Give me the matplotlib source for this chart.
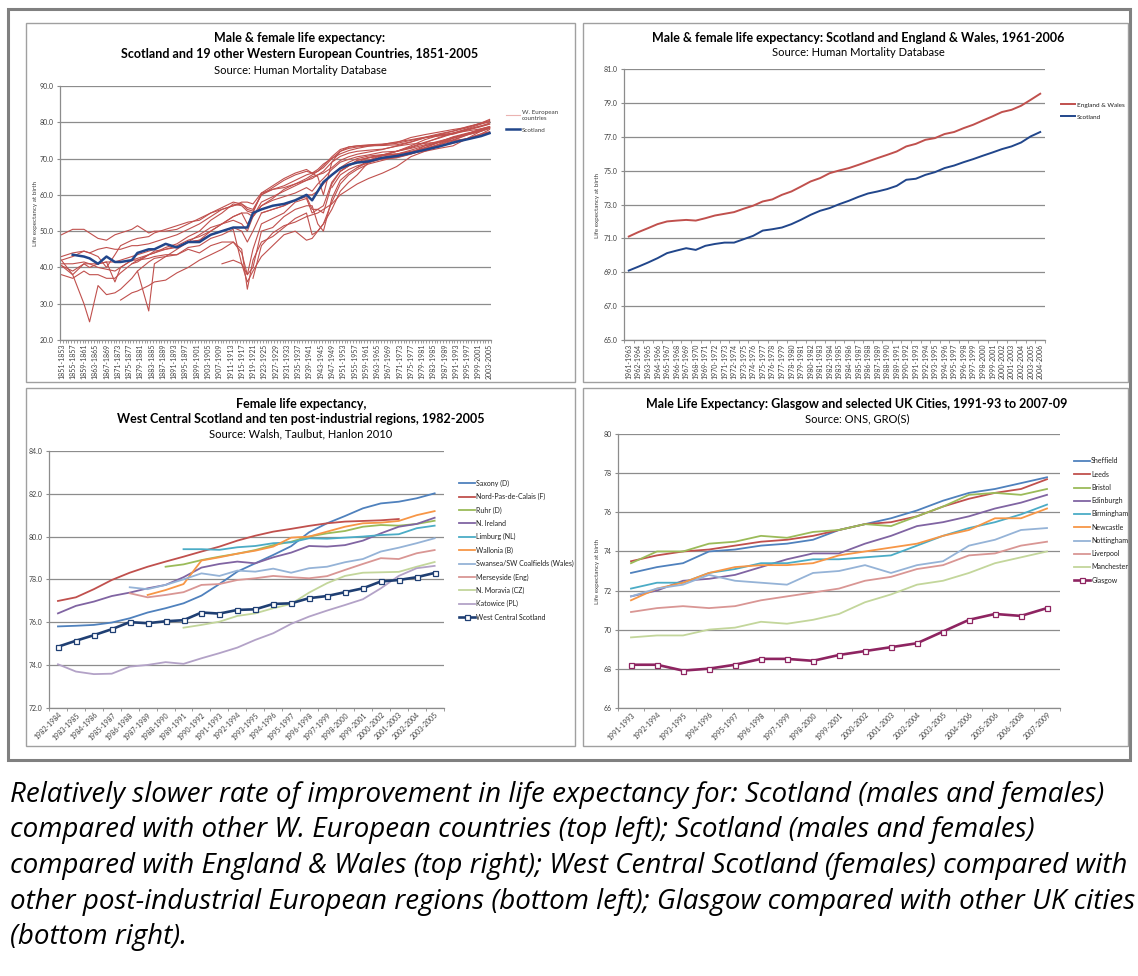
import matplotlib
matplotlib.use("Agg")
import matplotlib.pyplot as plt
from matplotlib.lines import Line2D
from matplotlib.patches import Rectangle
import numpy as np

plt.rcParams['font.family'] = ['Lato', 'DejaVu Sans']

W, H = 1138, 976
N = None

# ---------------- top left: 19 W. European countries + Scotland, 1851-2005 (3-year windows)
tl_first = 1851
tl_count = 153
tl_years = [1851, 1855, 1859, 1861, 1864, 1867, 1870, 1872, 1876, 1878, 1882, 1884, 1888, 1892, 1896,
            1900, 1904, 1908, 1912, 1915, 1917, 1919, 1922, 1926, 1930, 1934, 1938, 1940, 1942, 1944,
            1947, 1950, 1953, 1956, 1960, 1965, 1970, 1975, 1980, 1985, 1990, 1995, 2000, 2003]

norway = [49, 50.5, 50.5, 49.5, 48, 47.5, 49, 49.5, 50.5, 51.5, 49.5, 50, 50, 50.5, 52, 53.5, 55, 56, 57, 57.5,
          56.5, 56, 60, 62, 64, 65.5, 66.5, 66, 66.5, 68, 70.5, 72.5, 73.2, 73.5, 73.6, 73.8, 74.2, 75, 75.8, 76.2,
          76.7, 77.8, 78.8, 79.5]
sweden = [43, 44, 44.5, 44, 43, 40, 43.5, 46, 47.5, 48, 48.5, 49.5, 50.5, 51.5, 52.5, 53, 55, 56.5, 58, 57.5,
          56, 55.5, 60, 61.5, 62.5, 64, 65.5, 66, 67, 68.5, 70, 71.3, 72.2, 72.8, 73.4, 73.9, 74.6, 75.2, 75.9, 76.8,
          77.6, 78.8, 79.7, 80.2]
denmark = [42, 43, 44.5, 44, 45, 45.5, 45, 45, 46, 46, 46.5, 47, 48, 49, 50.5, 52, 54, 56, 57, 58,
           58, 57.5, 60.5, 61.5, 62, 63, 64, 65, 65.5, 66.5, 69, 70.6, 71.5, 72, 72.3, 72.6, 73.4, 74, 74.2, 74.5,
           75, 75.4, 76.8, 77.4]
iceland = [42, 38, 30, 25, 35, 32.5, 33, 34, 37, 39, 28, 41, 43, 45, 47, 49, 51, 52, 54, 55,
           55, 54, 57, 59, 61.5, 63, 64.5, 65.5, 66.5, 67.5, 70, 72, 73.2, 73.5, 73.8, 74, 74.4, 75.8, 76.6, 77.3,
           78, 78.6, 79.8, 80.8]
france = [40.5, 38, 41, 40, 41, 41.5, 36, 40, 42, 42, 42.5, 43, 43.5, 43.5, 45.5, 46, 48, 49, 50.5, 41,
          38, 45, 52, 53.5, 55, 58, 59, 55, 56, 55, 63, 66.5, 68, 69.5, 70.3, 71, 72, 73.2, 74.5, 75.6,
          76.9, 78, 79, 79.5]
netherlands = [38, 37, 39, 38, 38, 37, 37, 38.5, 41, 42, 43.5, 44, 45.5, 46.5, 48.5, 50, 53, 55, 57.5, 57,
               55.5, 55, 60.5, 62.5, 64.5, 66, 67, 66, 65, 60, 69, 72, 72.8, 73.2, 73.5, 73.6, 73.8, 74.6, 75.8,
               76.5, 77, 77.6, 78.2, 78.8]
belgium = [40.5, 39, 41, 41, 40, 39.5, 39, 40, 42, 42.5, 43.5, 44.5, 45, 45.5, 47, 47.5, 49, 50, 51, 50,
           47, 50, 55, 56, 57, 58.5, 59.5, 56, 56, 57, 63.5, 66.5, 68, 69, 70.2, 70.8, 71.2, 72.3, 73.5, 74.5,
           76, 77, 77.9, 78.5]
eng_wales = [41, 41, 41.5, 41, 41, 41.5, 41.5, 42, 43, 43.5, 44.5, 45, 46.5, 45.5, 47, 47.5, 50, 52, 53, 52,
             50, 54, 57, 58.5, 59.5, 60.5, 62, 61, 63, 64.5, 67, 69, 69.8, 70.5, 71, 71.8, 72, 72.8, 73.8, 74.8,
             75.8, 76.8, 77.9, 78.5]
switzerland = [N] * 8 + [41, 41.5, 43.5, 44, 45, 46, 47.5, 48.5, 50, 52, 54, 55, 52, 54, 58, 59.5, 61, 62.5,
                         64, 64.5, 65.5, 66, 67.5, 69.5, 70.5, 71.2, 71.8, 72.5, 73.5, 74.5, 75.7, 76.6, 77.5,
                         78.5, 79.8, 80.5]
italy = [N] * 7 + [31, 33, 33.5, 35, 36, 36.5, 38.5, 40, 42, 43.5, 45, 47, 44, 38, 40, 50, 51, 54, 56, 57,
                   57, 52, 50, 59, 64, 66, 67.5, 69.5, 71, 72, 73, 74.3, 75.8, 77, 78.2, 79.5, 80.2]
finland = [N] * 9 + [39, 41.5, 42.5, 43, 43.5, 45, 44, 46, 47, 47, 45, 34, 42, 47, 48.5, 51, 53.5, 55, 49, 50,
                     52, 58, 63, 65.5, 67, 68.5, 69.5, 70.5, 71.5, 73.5, 74.5, 75, 76.5, 77.5, 78.5]
spain = [N] * 17 + [41, 42, 41, 36, 39, 43, 46, 49, 50, 47.5, 48, 50, 52, 56, 61, 63.5, 65.5, 69, 70.8, 72,
                    73.5, 75.2, 76.4, 77, 78, 79, 79.8]
portugal = [N] * 21 + [37, 46, 49.5, 51.5, 52.5, 54, 54.5, 55, 56, 57.5, 60, 61.5, 63, 64.5, 66, 67.8, 70.5,
                       72, 73.5, 74.2, 75.5, 76.5, 77.3]
n_ireland = [N] * 22 + [55, 56, 57, 58.5, 60, 60, 61, 63, 65.5, 67.5, 69, 70, 70.7, 71.1, 71.3, 71.8, 73, 74.4,
                        75.6, 76.6, 77.6, 78.3]
ireland = [N] * 31 + [66.5, 68, 69.5, 70.2, 70.9, 71.2, 72, 72.8, 73.8, 74.8, 75.5, 76.8, 78]
austria = [N] * 30 + [62, 65.5, 67, 68, 68.8, 70, 70.2, 71.2, 72.5, 74, 75.6, 76.8, 78.2, 78.8]
w_germany = [N] * 33 + [69, 69.6, 70.3, 70.7, 71.5, 73, 74.6, 75.8, 76.8, 78.1, 78.7]
luxembourg = [N] * 34 + [69.5, 69.8, 70.3, 71.3, 72.5, 73.8, 75.2, 76.5, 77.8, 78.6]
e_germany = [N] * 33 + [67.5, 69, 70.3, 71, 71.5, 72, 72.8, 73.5, 75.5, 77.6, 78.3]
scotland_tl = [N, 43.5, 43, 42.5, 41, 43, 41.5, 41.5, 42, 44, 45, 45, 46.5, 45.5, 47, 47, 49, 50, 51, 51,
               51, 55, 56, 57, 57.5, 58.5, 60, 58.5, 61, 63.5, 65.5, 67.3, 68.3, 68.9, 69.2, 70.2, 70.7, 71.5,
               72.4, 73.3, 74.4, 75.3, 76.2, 77]
we_countries = [norway, sweden, denmark, iceland, france, netherlands, belgium, eng_wales, switzerland, italy,
                finland, spain, portugal, n_ireland, ireland, austria, w_germany, luxembourg, e_germany]

# ---------------- top right: Scotland vs England & Wales, 1961-2006
tr_first = 1961
ew_tr = [71.11, 71.37, 71.6, 71.84, 72.0, 72.05, 72.09, 72.05, 72.19, 72.35, 72.45, 72.55, 72.75, 72.93, 73.18,
         73.3, 73.57, 73.77, 74.06, 74.36, 74.56, 74.85, 75.01, 75.15, 75.34, 75.54, 75.74, 75.93, 76.13, 76.43,
         76.58, 76.82, 76.92, 77.16, 77.28, 77.51, 77.71, 77.96, 78.2, 78.46, 78.59, 78.83, 79.18, 79.54]
scot_tr = [69.1, 69.33, 69.57, 69.83, 70.13, 70.28, 70.42, 70.32, 70.56, 70.67, 70.75, 70.75, 70.95, 71.15, 71.46,
           71.54, 71.64, 71.84, 72.1, 72.39, 72.63, 72.79, 73.02, 73.22, 73.45, 73.65, 73.77, 73.91, 74.1, 74.46,
           74.52, 74.75, 74.91, 75.15, 75.3, 75.5, 75.68, 75.88, 76.07, 76.27, 76.43, 76.66, 77.02, 77.28]

# ---------------- bottom left: female LE, post-industrial regions, 1982-2005
bl_first = 1982
bl_names = ["Saxony (D)", "Nord-Pas-de-Calais (F)", "Ruhr (D)", "N. Ireland", "Limburg (NL)", "Wallonia (B)",
            "Swansea/SW Coalfields (Wales)", "Merseyside (Eng)", "N. Moravia (CZ)", "Katowice (PL)"]
saxony = [75.8, 75.83, 75.87, 75.98, 76.18, 76.45, 76.65, 76.88, 77.24, 77.78, 78.36, 78.75, 79.14, 79.55,
          80.2, 80.62, 80.96, 81.32, 81.55, 81.63, 81.79, 82.02]
nord = [76.99, 77.16, 77.54, 77.97, 78.31, 78.59, 78.83, 79.06, 79.3, 79.53, 79.81, 80.04, 80.23, 80.36, 80.5,
        80.62, 80.7, 80.73, 80.76, 80.82, N, N]
ruhr = [N] * 6 + [78.59, 78.7, 78.9, 79.06, 79.2, 79.37, 79.6, 79.76, 80.0, 80.15, 80.26, 80.46, 80.54, 80.51,
                  80.59, 80.74]
ni_f = [76.41, 76.76, 76.96, 77.22, 77.38, 77.58, 77.74, 78.1, 78.55, 78.72, 78.83, 78.75, 79.03, 79.25, 79.56,
        79.53, 79.6, 79.81, 80.15, 80.46, 80.59, 80.88]
limburg = [N] * 7 + [79.41, 79.41, 79.38, 79.5, 79.56, 79.69, 79.73, 79.92, 79.9, 79.95, 80.0, 80.07, 80.11,
                     80.39, 80.51]
wallonia = [N] * 5 + [77.27, 77.5, 77.78, 78.88, 79.03, 79.2, 79.34, 79.53, 79.95, 80.0, 80.23, 80.46, 80.62,
                      80.65, 80.73, 81.0, 81.19]
swansea = [N] * 4 + [77.63, 77.54, 77.74, 78.0, 78.28, 78.16, 78.41, 78.36, 78.5, 78.31, 78.52, 78.59, 78.8,
                     78.95, 79.3, 79.48, 79.69, 79.92]
merseyside = [N] * 4 + [77.35, 77.16, 77.27, 77.4, 77.74, 77.78, 77.97, 78.05, 78.16, 78.1, 78.05, 78.15,
                        78.44, 78.72, 78.99, 78.95, 79.22, 79.37]
moravia = [N] * 7 + [75.74, 75.87, 76.02, 76.29, 76.41, 76.65, 76.85, 77.38, 77.82, 78.16, 78.31, 78.33, 78.35,
                     78.59, 78.81]
katowice = [74.03, 73.69, 73.57, 73.59, 73.92, 74.0, 74.13, 74.05, 74.31, 74.55, 74.81, 75.17, 75.48, 75.92,
            76.26, 76.54, 76.8, 77.07, 77.58, 78.16, 78.52, 78.63]
wcs = [74.85, 75.13, 75.39, 75.67, 76.0, 75.95, 76.04, 76.09, 76.45, 76.4, 76.57, 76.6, 76.85, 76.88, 77.12,
       77.22, 77.4, 77.58, 77.9, 77.97, 78.1, 78.3]
bl_series = [saxony, nord, ruhr, ni_f, limburg, wallonia, swansea, merseyside, moravia, katowice]
bl_colors = ['#4F81BD', '#C0504D', '#9BBB59', '#8064A2', '#4BACC6', '#F79646', '#95B3D7', '#D99694',
             '#C3D69B', '#B3A2C7']

# ---------------- bottom right: male LE, UK cities, 1991-93 to 2007-09
br_labels = ["1991-1993", "1992-1994", "1993-1995", "1994-1996", "1995-1997", "1996-1998", "1997-1999",
             "1998-2000", "1999-2001", "2000-2002", "2001-2003", "2002-2004", "2003-2005", "2004-2006",
             "2005-2006", "2006-2008", "2007-2009"]
br_names = ["Sheffield", "Leeds", "Bristol", "Edinburgh", "Birmingham", "Newcastle", "Nottingham", "Liverpool",
            "Manchester"]
sheffield = [72.9, 73.2, 73.4, 74.0, 74.1, 74.3, 74.4, 74.6, 75.1, 75.4, 75.7, 76.1, 76.6, 77.0, 77.2, 77.5, 77.8]
leeds = [73.5, 73.8, 74.0, 74.1, 74.3, 74.5, 74.6, 74.8, 75.1, 75.4, 75.5, 75.8, 76.3, 76.7, 77.0, 77.2, 77.7]
bristol = [73.4, 74.0, 74.0, 74.4, 74.5, 74.8, 74.7, 75.0, 75.1, 75.4, 75.3, 75.8, 76.3, 76.9, 77.0, 76.9, 77.2]
edinburgh = [71.7, 72.0, 72.5, 72.6, 72.8, 73.2, 73.6, 73.9, 73.9, 74.4, 74.8, 75.3, 75.5, 75.8, 76.2, 76.5, 76.9]
birmingham = [72.1, 72.4, 72.4, 72.9, 73.1, 73.4, 73.4, 73.6, 73.6, 73.7, 73.8, 74.3, 74.8, 75.2, 75.5, 75.9, 76.4]
newcastle = [71.5, 72.1, 72.4, 72.9, 73.2, 73.3, 73.3, 73.4, 73.8, 74.0, 74.2, 74.4, 74.8, 75.1, 75.7, 75.7, 76.2]
nottingham = [71.7, 72.1, 72.3, 72.8, 72.5, 72.4, 72.3, 72.9, 73.0, 73.3, 72.9, 73.3, 73.5, 74.3, 74.6, 75.1, 75.2]
liverpool = [70.9, 71.1, 71.2, 71.1, 71.2, 71.5, 71.7, 71.9, 72.1, 72.5, 72.7, 73.1, 73.3, 73.8, 73.9, 74.3, 74.5]
manchester = [69.6, 69.7, 69.7, 70.0, 70.1, 70.4, 70.3, 70.5, 70.8, 71.4, 71.8, 72.3, 72.5, 72.9, 73.4, 73.7, 74.0]
glasgow = [68.2, 68.2, 67.9, 68.0, 68.2, 68.5, 68.5, 68.4, 68.7, 68.9, 69.1, 69.3, 69.9, 70.5, 70.8, 70.7, 71.1]
br_series = [sheffield, leeds, bristol, edinburgh, birmingham, newcastle, nottingham, liverpool, manchester]

caption = ["Relatively slower rate of improvement in life expectancy for: Scotland (males and females)",
           "compared with other W. European countries (top left); Scotland (males and females)",
           "compared with England & Wales (top right); West Central Scotland (females) compared with",
           "other post-industrial European regions (bottom left); Glasgow compared with other UK cities",
           "(bottom right)."]

GRID = '#8c8c8c'
RED = '#C0504D'
NAVY = '#21468B'


def box(x0, y0, x1, y1):
    return [x0 / W, 1 - y1 / H, (x1 - x0) / W, (y1 - y0) / H]


def frame(x0, y0, x1, y1, color, lw):
    fig.add_artist(Rectangle((x0 / W, 1 - y1 / H), (x1 - x0) / W, (y1 - y0) / H,
                             transform=fig.transFigure, fill=False, ec=color, lw=lw, zorder=0))


def ftext(x, y, s, **kw):
    fig.text(x / W, 1 - y / H, s, **kw)


def style(ax, ymin, ymax, ystep, fmt, n, labels, step=1, rot=90):
    ax.set_ylim(ymin, ymax)
    yt = np.arange(ymin, ymax + 0.001, ystep)
    ax.set_yticks(yt)
    ax.set_yticklabels([fmt.format(v) for v in yt])
    ax.grid(axis='y', color=GRID, lw=0.9)
    ax.set_axisbelow(True)
    ax.patch.set_alpha(0)
    for s in ['top', 'right']:
        ax.spines[s].set_visible(False)
    for s in ['left', 'bottom']:
        ax.spines[s].set_color(GRID)
        ax.spines[s].set_linewidth(0.9)
    ax.tick_params(axis='y', length=2.5, width=0.8, color=GRID, pad=2, labelsize=5, labelcolor='#404040')
    ax.set_xlim(-0.5, n - 0.5)
    ax.set_xticks(range(0, n, step))
    if rot == 90:
        ax.set_xticklabels(labels[::step], rotation=90, ha='center', va='top')
    else:
        ax.set_xticklabels(labels[::step], rotation=45, ha='right', va='top', rotation_mode='anchor')
    ax.set_xticks(np.arange(-0.5, n, 1), minor=True)
    ax.tick_params(axis='x', which='major', length=0, pad=2.5, labelsize=5, labelcolor='#404040')
    ax.tick_params(axis='x', which='minor', length=2.5, width=0.6, color=GRID)


def arr(v):
    return np.array([np.nan if x is None else x for x in v], dtype=float)


fig = plt.figure(figsize=(W / 100, H / 100), dpi=100)

frame(8, 9, 1130, 760, '#808080', 2.2)
for p in [(25.5, 23, 575, 382), (583, 23, 1128, 382), (25.5, 388, 575, 746), (583, 388, 1128, 746)]:
    frame(*p, '#a0a0a0', 1.0)

# ---- top left
ax1 = fig.add_axes(box(60, 86, 491, 340))
tl_labels = [f"{tl_first + i}-{tl_first + i + 2}" for i in range(tl_count)]
style(ax1, 20, 90, 10, "{:.1f}", tl_count, tl_labels, step=4)
tl_x = [y - tl_first for y in tl_years]
for s in we_countries:
    ax1.plot(tl_x, arr(s), color=RED, lw=0.8)
ax1.plot(tl_x, arr(scotland_tl), color=NAVY, lw=1.8)
ax1.legend([Line2D([], [], color='#EBB3B1', lw=0.8), Line2D([], [], color=NAVY, lw=1.8)],
           ["W. European\ncountries", "Scotland"], loc='upper left', bbox_to_anchor=(503 / W, 1 - 107 / H),
           bbox_transform=fig.transFigure, frameon=False, fontsize=4.5, handlelength=2.2, handletextpad=0.3,
           borderpad=0, labelspacing=1.0, labelcolor='#404040')
ftext(300, 38, "Male & female life expectancy:", ha='center', va='center', fontsize=9, fontweight='bold')
ftext(300, 54, "Scotland and 19 other Western European Countries, 1851-2005", ha='center', va='center',
      fontsize=9, fontweight='bold')
ftext(300, 70, "Source: Human Mortality Database", ha='center', va='center', fontsize=8)
ftext(35, 213, "Life expectancy at birth", rotation=90, ha='center', va='center', fontsize=4.5, color='#404040')

# ---- top right
ax2 = fig.add_axes(box(624, 69, 1045, 340))
tr_labels = [f"{tr_first + i}-{tr_first + i + 2}" for i in range(len(ew_tr))]
style(ax2, 65, 81, 2, "{:.1f}", len(ew_tr), tr_labels)
ax2.plot(range(len(ew_tr)), ew_tr, color=RED, lw=1.4, label="England & Wales")
ax2.plot(range(len(scot_tr)), scot_tr, color=NAVY, lw=1.4, label="Scotland")
ax2.legend(loc='upper left', bbox_to_anchor=(1058 / W, 1 - 99 / H), bbox_transform=fig.transFigure,
           frameon=False, fontsize=4.6, handlelength=2.2, handletextpad=0.2, borderpad=0, labelspacing=1.0,
           labelcolor='#202020')
ftext(858, 38, "Male & female life expectancy: Scotland and England & Wales, 1961-2006", ha='center',
      va='center', fontsize=9, fontweight='bold')
ftext(858, 53, "Source: Human Mortality Database", ha='center', va='center', fontsize=8)
ftext(597, 205, "Life expectancy at birth", rotation=90, ha='center', va='center', fontsize=4.5, color='#404040')

# ---- bottom left
ax3 = fig.add_axes(box(49, 451, 443.6, 707.7))
bl_labels = [f"{bl_first + i}-{bl_first + i + 2}" for i in range(len(wcs))]
style(ax3, 72, 84, 2, "{:.1f}", len(wcs), bl_labels, rot=45)
for s, c, name in zip(bl_series, bl_colors, bl_names):
    ax3.plot(range(len(s)), arr(s), color=c, lw=1.3, label=name)
ax3.plot(range(len(wcs)), wcs, color='#1F3F73', lw=1.9, marker='s', ms=3.6, mfc='white', mec='#1F3F73',
         mew=0.9, label="West Central Scotland")
ax3.legend(loc='upper left', bbox_to_anchor=(456 / W, 1 - 476 / H), bbox_transform=fig.transFigure,
           frameon=False, fontsize=5, handlelength=2.2, handletextpad=0.2, borderpad=0, labelspacing=0.9,
           labelcolor='#202020')
ftext(301, 404, "Female life expectancy,", ha='center', va='center', fontsize=9, fontweight='bold')
ftext(301, 419, "West Central Scotland and ten post-industrial regions, 1982-2005", ha='center', va='center',
      fontsize=9, fontweight='bold')
ftext(301, 434, "Source: Walsh, Taulbut, Hanlon 2010", ha='center', va='center', fontsize=8)

# ---- bottom right
ax4 = fig.add_axes(box(618, 434.3, 1060, 707.7))
style(ax4, 66, 80, 2, "{:.0f}", len(glasgow), br_labels, rot=45)
for s, c, name in zip(br_series, bl_colors, br_names):
    ax4.plot(range(len(s)), s, color=c, lw=1.3, label=name)
ax4.plot(range(len(glasgow)), glasgow, color='#8E2461', lw=1.9, marker='s', ms=3.6, mfc='white', mec='#8E2461',
         mew=0.9, label="Glasgow")
ax4.legend(loc='upper left', bbox_to_anchor=(1071 / W, 1 - 454 / H), bbox_transform=fig.transFigure,
           frameon=False, fontsize=5, handlelength=2.2, handletextpad=0.2, borderpad=0, labelspacing=0.9,
           labelcolor='#202020')
ftext(857, 404, "Male Life Expectancy: Glasgow and selected UK Cities, 1991-93 to 2007-09", ha='center',
      va='center', fontsize=9, fontweight='bold')
ftext(857, 419, "Source: ONS, GRO(S)", ha='center', va='center', fontsize=8)
ftext(597, 571, "Life expectancy at birth", rotation=90, ha='center', va='center', fontsize=4.5, color='#404040')

# ---- caption
for i, line in enumerate(caption):
    ftext(10, 795 + i * 35.5, line, ha='left', va='center', fontsize=20, style='italic',
          family=['Open Sans', 'DejaVu Sans'])

fig.savefig("out.png", dpi=100)
